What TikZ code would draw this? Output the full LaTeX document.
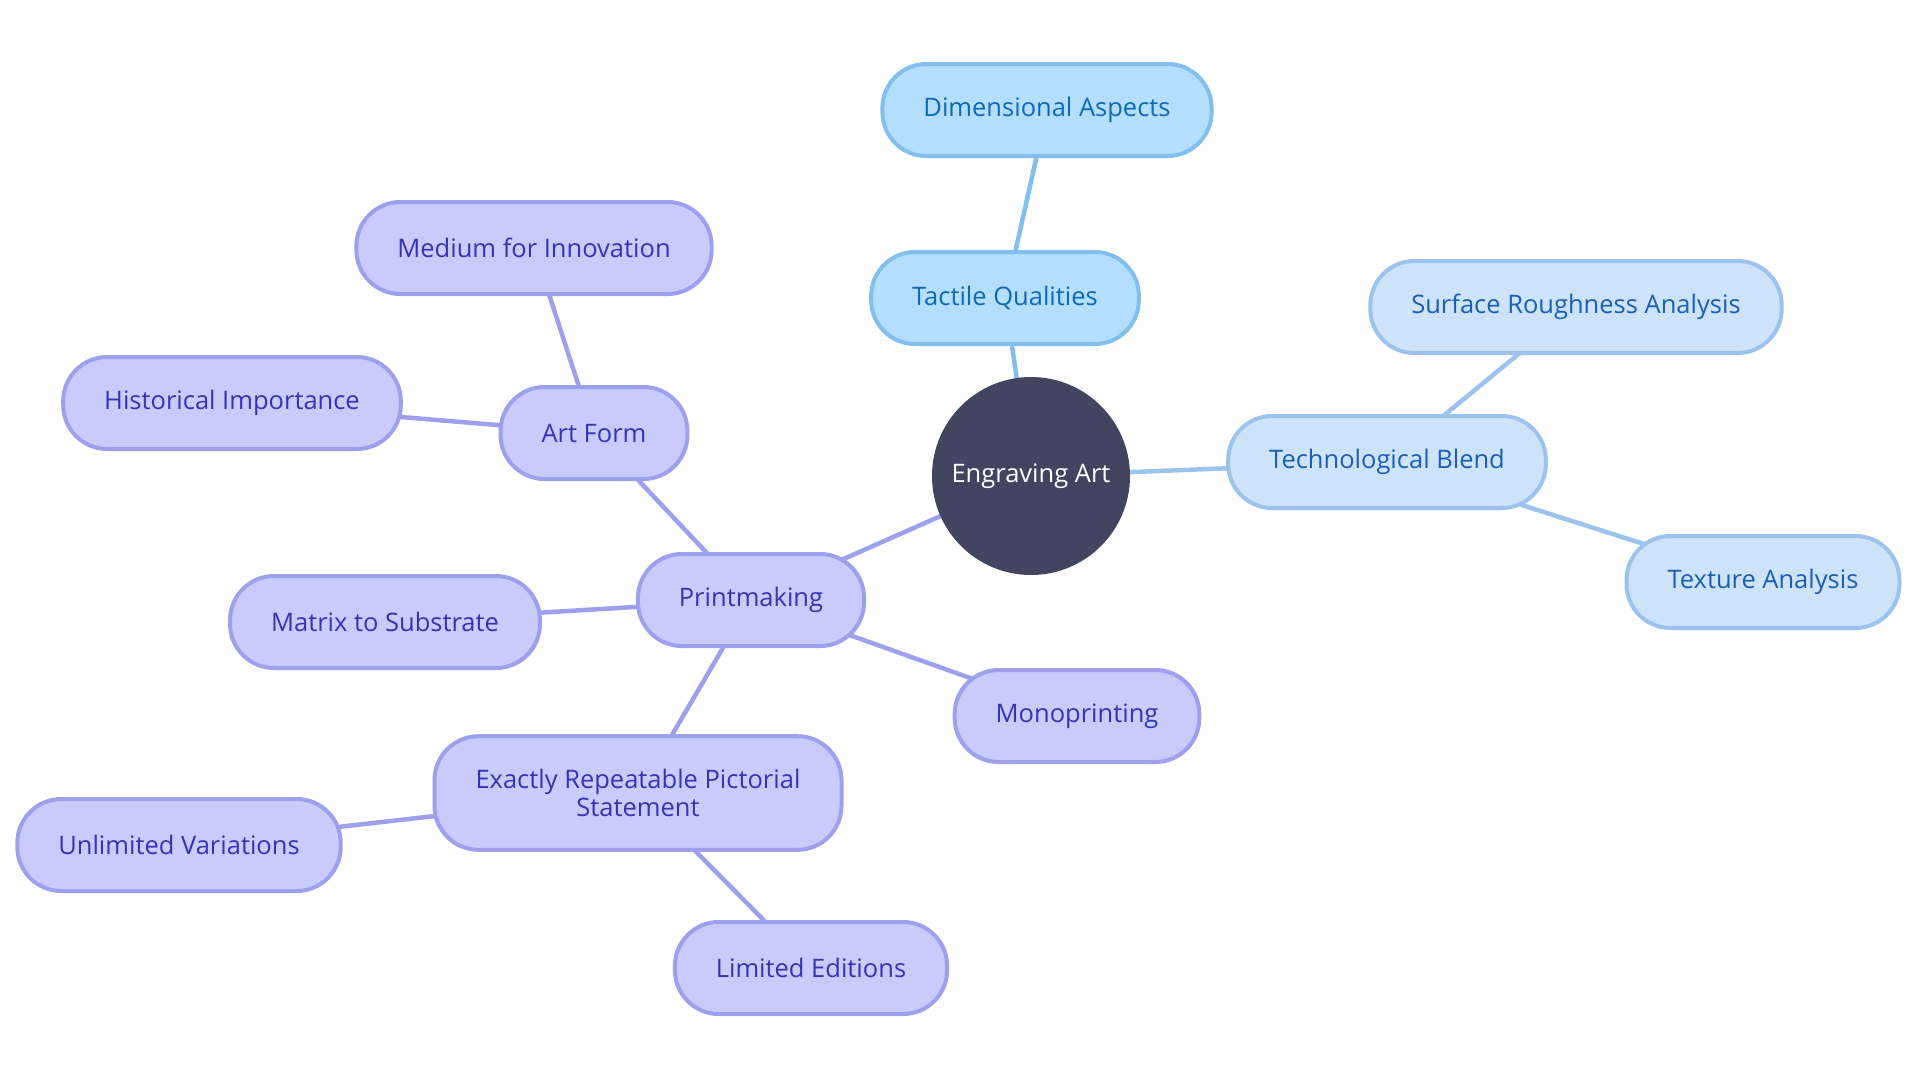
\documentclass[tikz,border=0pt]{standalone}
\usepackage{fontspec}
\setmainfont{Open Sans}
\usetikzlibrary{positioning, backgrounds}
\definecolor{corefill}{HTML}{414560}
\definecolor{pfill}{HTML}{C9CBFD}
\definecolor{pline}{HTML}{9DA0EC}
\definecolor{ptext}{HTML}{3434B4}
\definecolor{bfill}{HTML}{B3DEFD}
\definecolor{bline}{HTML}{80BFEE}
\definecolor{btext}{HTML}{0E6AB6}
\definecolor{tfill}{HTML}{CDE3FA}
\definecolor{tline}{HTML}{9CC3EE}
\definecolor{ttext}{HTML}{1A5FB4}

\begin{document}
\begin{tikzpicture}[x=1pt, y=-1pt,
  leaf/.style={draw, line width=4pt, rounded corners=44pt, minimum height=92pt,
               inner xsep=41pt, inner ysep=33pt, align=center,
               font=\fontsize{25.5}{28}\selectfont},
  printbox/.style={leaf, fill=pfill, draw=pline, text=ptext},
  tactbox/.style={leaf, fill=bfill, draw=bline, text=btext},
  techbox/.style={leaf, fill=tfill, draw=tline, text=ttext},
  core/.style={circle, fill=corefill, text=white, minimum size=198pt,
               font=\fontsize{25.5}{28}\selectfont},
  link/.style={line width=4.5pt}]

  \useasboundingbox (0,0) rectangle (1920,1080);

  \node[core] (eng) at (1031,476) {Engraving Art};

  \node[tactbox] (tact) at (1005,298) {Tactile Qualities};
  \node[tactbox] (dim)  at (1047,110) {Dimensional Aspects};

  \node[techbox] (tech) at (1387,462) {Technological Blend};
  \node[techbox] (rough) at (1576,307) {Surface Roughness Analysis};
  \node[techbox] (tex)  at (1763,582) {Texture Analysis};

  \node[printbox] (print) at (751,600) {Printmaking};
  \node[printbox] (art)   at (594,433) {Art Form};
  \node[printbox] (med)   at (534,248) {Medium for Innovation};
  \node[printbox] (hist)  at (232,403) {Historical Importance};
  \node[printbox] (mat)   at (385,622) {Matrix to Substrate};
  \node[printbox] (mono)  at (1077,716) {Monoprinting};
  \node[printbox] (exact) at (638,793) {Exactly Repeatable Pictorial\\Statement};
  \node[printbox] (unl)   at (179,845) {Unlimited Variations};
  \node[printbox] (lim)   at (811,968) {Limited Editions};

  \begin{scope}[on background layer]
    \draw[link, bline] (eng.center) -- (tact.center);
    \draw[link, bline] (tact.center) -- (dim.center);
    \draw[link, tline] (eng.center) -- (tech.center);
    \draw[link, tline] (tech.center) -- (rough.center);
    \draw[link, tline] (tech.center) -- (tex.center);
    \draw[link, pline] (eng.center) -- (print.center);
    \draw[link, pline] (print.center) -- (art.center);
    \draw[link, pline] (art.center) -- (med.center);
    \draw[link, pline] (art.center) -- (hist.center);
    \draw[link, pline] (print.center) -- (mat.center);
    \draw[link, pline] (print.center) -- (mono.center);
    \draw[link, pline] (print.center) -- (exact.center);
    \draw[link, pline] (exact.center) -- (unl.center);
    \draw[link, pline] (exact.center) -- (lim.center);
  \end{scope}
\end{tikzpicture}
\end{document}
